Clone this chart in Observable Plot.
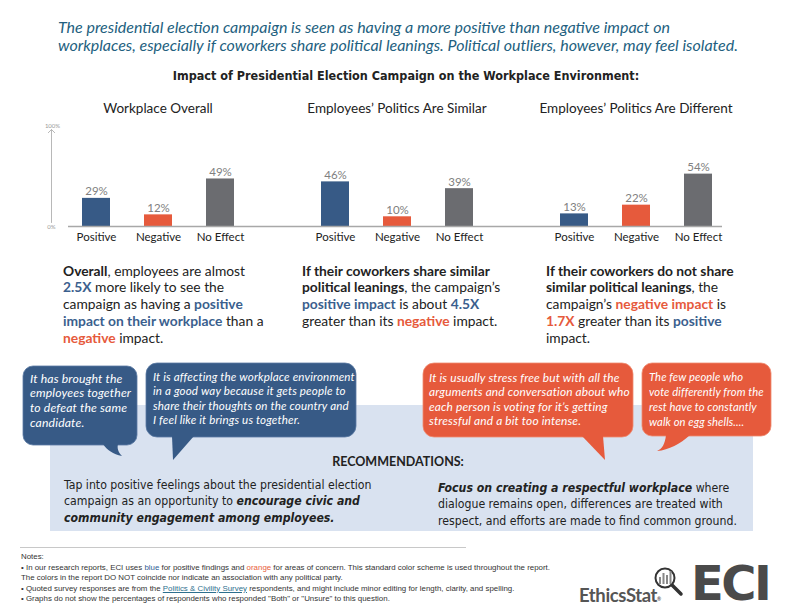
<!DOCTYPE html>
<html><head><meta charset="utf-8">
<script src="https://cdn.jsdelivr.net/npm/d3@7"></script>
<script src="https://cdn.jsdelivr.net/npm/@observablehq/plot@0.6"></script>
<style>
body{margin:0;width:792px;height:612px;position:relative;background:#fff;font-family:Lato,"Open Sans",sans-serif;overflow:hidden;color:#222}
.abs{position:absolute;white-space:nowrap}
.sub{left:58px;top:18px;font-style:italic;font-size:16px;line-height:18px;color:#235f80}
.ctitle{left:10px;width:792px;top:68px;text-align:center;font-family:"Liberation Sans Narrow","DejaVu Sans Condensed",sans-serif;font-weight:bold;font-size:12.5px}
.body{font-size:13.8px;line-height:16.8px;color:#222}
.b{font-weight:bold}
.bl{color:#3b5f8e;font-weight:bold}
.or{color:#e65a3c;font-weight:bold}
.bub{font-style:italic;font-size:11.6px;letter-spacing:0.15px;color:#fff;line-height:14.6px}
.rec{font-family:"Liberation Sans Narrow","DejaVu Sans Condensed",sans-serif;font-size:12.2px;line-height:16.6px;color:#222}
.notes{left:21px;top:552px;font-family:"Liberation Sans",Arial,sans-serif;font-size:7.9px;line-height:10.6px;color:#333}
g[aria-label="bar-label"] text{letter-spacing:0.9px}
</style></head><body>
<div class="abs sub">The presidential election campaign is seen as having a more positive than negative impact on<br>workplaces, especially if coworkers share political leanings. Political outliers, however, may feel isolated.</div>
<div class="abs ctitle">Impact of Presidential Election Campaign on the Workplace Environment:</div>
<div id="chart" class="abs" style="left:0;top:95px"></div>

<div class="abs body" style="left:63px;top:262.6px"><span class="b">Overall</span>, employees are almost<br><span class="bl">2.5X</span> more likely to see the<br>campaign as having a <span class="bl">positive</span><br><span class="bl">impact on their workplace</span> than a<br><span class="or">negative</span> impact.</div>
<div class="abs body" style="left:302px;top:262.6px"><span class="b">If their coworkers share similar</span><br><span class="b">political leanings</span>, the campaign’s<br><span class="bl">positive impact</span> is about <span class="bl">4.5X</span><br>greater than its <span class="or">negative</span> impact.</div>
<div class="abs body" style="left:546px;top:262.6px"><span class="b">If their coworkers do not share</span><br><span class="b">similar political leanings</span>, the<br>campaign’s <span class="or">negative impact</span> is<br><span class="or">1.7X</span> greater than its <span class="bl">positive</span><br>impact.</div>

<div class="abs" style="left:50px;top:405px;width:703px;height:126px;background:#d9e2f0"></div>
<svg class="abs" style="left:0;top:0" width="792" height="612">
  <g fill="#375a86" stroke="#5a7aa3" stroke-width="0.8">
    <rect x="23" y="366" width="114" height="79" rx="10"/>
    <path d="M103,444 C107,450 113,454 122,456 C118,452 117,448 118,444 Z" stroke="none"/>
    <rect x="146" y="363" width="210" height="74" rx="11"/>
    <path d="M172,436 L173,460 L194,436 Z" stroke="none"/>
  </g>
  <g fill="#e65a3c" stroke="#ef8a70" stroke-width="0.8">
    <rect x="423" y="363" width="210" height="74" rx="11"/>
    <path d="M582,436 L605,460 L603,436 Z" stroke="none"/>
    <rect x="642" y="363" width="129" height="73" rx="10"/>
    <path d="M666,435 C665,444 662,449 657,451 C669,450 680,444 690,435 Z" stroke="none"/>
  </g>
</svg>
<div class="abs bub" style="left:30px;top:371.6px;line-height:14.7px;font-size:12.2px">It has brought the<br>employees together<br>to defeat the same<br>candidate.</div>
<div class="abs bub" style="left:153px;top:369.8px;line-height:14.4px">It is affecting the workplace environment<br>in a good way because it gets people to<br>share their thoughts on the country and<br>I feel like it brings us together.</div>
<div class="abs bub" style="left:429px;top:370.7px;font-size:11.9px">It is usually stress free but with all the<br>arguments and conversation about who<br>each person is voting for it’s getting<br>stressful and a bit too intense.</div>
<div class="abs bub" style="left:649px;top:368.5px;line-height:15px;font-size:11.2px;letter-spacing:0.1px">The few people who<br>vote differently from the<br>rest have to constantly<br>walk on egg shells....</div>

<div class="abs" style="left:0;width:796px;top:454px;text-align:center;font-weight:bold;font-size:12.5px">RECOMMENDATIONS:</div>
<div class="abs rec" style="left:64px;top:476.7px">Tap into positive feelings about the presidential election<br>campaign as an opportunity to <b><i>encourage civic and</i></b><br><b><i>community engagement among employees.</i></b></div>
<div class="abs rec" style="left:438px;top:479.7px"><b><i>Focus on creating a respectful workplace</i></b> where<br>dialogue remains open, differences are treated with<br>respect, and efforts are made to find common ground.</div>

<div class="abs" style="left:20px;top:547px;width:446px;height:1px;background:#c8c8c8"></div>
<div class="abs notes">Notes:<br>• In our research reports, ECI uses <span style="color:#2f5d93">blue</span> for positive findings and <span style="color:#e8603c">orange</span> for areas of concern. This standard color scheme is used throughout the report.<br>The colors in the report DO NOT coincide nor indicate an association with any political party.<br>• Quoted survey responses are from the <span style="color:#2d6f8e;text-decoration:underline">Politics &amp; Civility Survey</span> respondents, and might include minor editing for length, clarity, and spelling.<br>• Graphs do not show the percentages of respondents who responded "Both" or "Unsure" to this question.</div>

<svg class="abs" style="left:575px;top:550px" width="217" height="62">
  <g stroke="#333" fill="none">
    <circle cx="90" cy="28" r="9.5" stroke-width="2"/>
    <line x1="97" y1="35" x2="106" y2="44" stroke-width="3.5" stroke-linecap="round"/>
  </g>
  <g fill="#888"><rect x="84" y="27" width="2" height="7"/><rect x="87.5" y="23" width="2" height="11"/><rect x="91" y="25" width="2" height="9"/><rect x="94.5" y="21" width="2" height="13"/></g>
  <text x="4" y="52" font-family="Lato,sans-serif" font-size="18.5" font-weight="bold" fill="#555" letter-spacing="-0.4">EthicsStat<tspan font-size="5" dy="-1">®</tspan></text>
  <text x="116" y="50" font-family="'DejaVu Sans',sans-serif" font-size="48" font-weight="bold" fill="#4a4a4a" letter-spacing="-2.5">ECI</text>
</svg>

<script>
const panels = ["Workplace Overall", "Employees’ Politics Are Similar", "Employees’ Politics Are Different"];
const categories = ["Positive", "Negative", "No Effect"];
const overallValues = [29, 12, 49];
const similarValues = [46, 10, 39];
const differentValues = [13, 22, 54];
const yTickLabels = ["0%", "100%"];
const categoryColors = ["#375a86", "#e65a3c", "#6b6c70"];

const seriesByPanel = [overallValues, similarValues, differentValues];
const rows = panels.flatMap((p, i) => categories.map((c, j) => ({panel: p, cat: c, value: seriesByPanel[i][j]})));
const base = "#a8a8a8";

const chart = Plot.plot({
  width: 792, height: 155,
  marginLeft: 37, marginRight: 36, marginTop: 34, marginBottom: 24,
  style: {fontFamily: "Lato, sans-serif", background: "transparent", overflow: "visible"},
  fx: {domain: panels, padding: 0, label: null},
  x: {domain: categories, paddingInner: 0.55, paddingOuter: 0.7, label: null},
  y: {domain: [0, 100], axis: null},
  color: {domain: categories, range: categoryColors},
  marks: [
    Plot.axisFx({anchor: "top", tickSize: 0, tickPadding: 17, fontSize: 13.5, fill: "#222", label: null}),
    Plot.axisX({anchor: "bottom", tickSize: 0, tickPadding: 6, fontSize: 11.5, fill: "#222", label: null}),
    Plot.barY(rows, {fx: "panel", x: "cat", y: "value", fill: "cat"}),
    Plot.text(rows, {fx: "panel", x: "cat", y: "value", text: d => d.value + "%", lineAnchor: "bottom", dy: -3, fontSize: 11.5, fill: "#808080", ariaLabel: "bar-label"}),
    Plot.ruleY([panels[0]], {fx: d => d, y: 0, insetLeft: 30, stroke: base, strokeWidth: 1.3}),
    Plot.ruleY([panels[1]], {fx: d => d, y: 0, stroke: base, strokeWidth: 1.3}),
    Plot.ruleY([panels[2]], {fx: d => d, y: 0, insetRight: 33, stroke: base, strokeWidth: 1.3}),
    Plot.vector([panels[0]], {fx: d => d, frameAnchor: "bottom-left", dx: 13, dy: -4, length: 93, rotate: 0, anchor: "start", r: 0.6, stroke: "#b8b8b8", strokeWidth: 1}),
    Plot.text([panels[0]], {fx: d => d, frameAnchor: "top-left", text: () => yTickLabels[1], dx: 14, dy: -2, lineAnchor: "bottom", textAnchor: "middle", fontSize: 6, fill: "#9a9a9a"}),
    Plot.text([panels[0]], {fx: d => d, frameAnchor: "bottom-left", text: () => yTickLabels[0], dx: 13, dy: 1, lineAnchor: "middle", textAnchor: "middle", fontSize: 6, fill: "#9a9a9a"})
  ]
});
document.getElementById("chart").appendChild(chart);
</script>
</body></html>
